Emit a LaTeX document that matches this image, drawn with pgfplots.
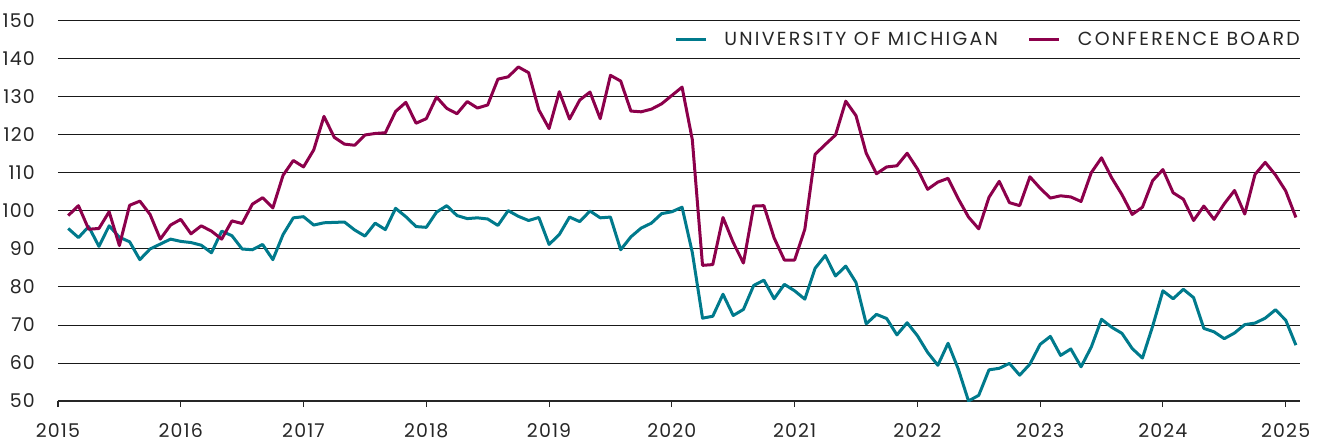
\documentclass[border=0pt]{standalone}
\usepackage{pgfplots}
\pgfplotsset{compat=1.18}
\usepackage{pgfplotstable}
\usepackage{fontspec}
\setmainfont{Poppins}
\newfontfamily\tickfont{Poppins}[LetterSpace=6]
\newfontfamily\lgfont{Poppins}[LetterSpace=12]
\definecolor{umteal}{RGB}{0,122,140}
\definecolor{cbmaroon}{RGB}{140,0,75}

% t = months since Jan 2015
\pgfplotstableread{
t um cb
1 95.4 98.8
2 93.0 101.4
3 95.9 95.2
4 90.7 95.4
5 96.1 99.8
6 93.1 90.9
7 91.9 101.5
8 87.2 102.6
9 90.0 99.1
10 91.3 92.6
11 92.6 96.3
12 92.0 97.8
13 91.7 94.0
14 91.0 96.1
15 89.0 94.7
16 94.7 92.6
17 93.5 97.4
18 90.0 96.7
19 89.8 101.8
20 91.2 103.5
21 87.2 100.8
22 93.8 109.4
23 98.2 113.3
24 98.5 111.6
25 96.3 116.1
26 96.9 124.9
27 97.0 119.4
28 97.1 117.6
29 95.0 117.3
30 93.4 120.0
31 96.8 120.4
32 95.1 120.6
33 100.7 126.2
34 98.5 128.6
35 95.9 123.1
36 95.7 124.3
37 99.7 130.0
38 101.4 127.0
39 98.8 125.6
40 98.0 128.8
41 98.2 127.1
42 97.9 127.9
43 96.2 134.7
44 100.1 135.3
45 98.6 137.9
46 97.5 136.4
47 98.3 126.6
48 91.2 121.7
49 93.8 131.4
50 98.4 124.2
51 97.2 129.2
52 100.0 131.3
53 98.2 124.3
54 98.4 135.7
55 89.8 134.2
56 93.2 126.3
57 95.5 126.1
58 96.8 126.8
59 99.3 128.2
60 99.8 130.4
61 101.0 132.6
62 89.1 118.8
63 71.8 85.7
64 72.3 85.9
65 78.1 98.3
66 72.5 91.7
67 74.1 86.3
68 80.4 101.3
69 81.8 101.4
70 76.9 92.9
71 80.7 87.1
72 79.0 87.1
73 76.8 95.2
74 84.9 114.9
75 88.3 117.5
76 82.9 120.0
77 85.5 128.9
78 81.2 125.1
79 70.3 115.2
80 72.8 109.8
81 71.7 111.6
82 67.4 111.9
83 70.6 115.2
84 67.2 111.1
85 62.8 105.7
86 59.4 107.6
87 65.2 108.6
88 58.4 103.2
89 50.0 98.4
90 51.5 95.3
91 58.2 103.6
92 58.6 107.8
93 59.9 102.2
94 56.8 101.4
95 59.7 109.0
96 64.9 106.0
97 67.0 103.4
98 62.0 104.0
99 63.7 103.7
100 59.0 102.5
101 64.2 110.1
102 71.5 114.0
103 69.4 108.7
104 67.8 104.3
105 63.8 99.1
106 61.3 101.0
107 69.7 108.0
108 79.0 110.9
109 76.9 104.8
110 79.4 103.1
111 77.2 97.5
112 69.1 101.3
113 68.2 97.8
114 66.4 101.9
115 67.9 105.4
116 70.1 99.2
117 70.5 109.6
118 71.8 112.8
119 74.0 109.5
120 71.3 105.3
121 64.7 98.3
}\datatable

\begin{document}
\begin{tikzpicture}
\useasboundingbox (-58bp,-42bp) rectangle (1269bp,401bp);
\begin{axis}[
  at={(0,0)}, anchor=south west,
  scale only axis, width=1242bp, height=380bp,
  xmin=0, xmax=121.4, ymin=50, ymax=150,
  xtick={0,12,...,120},
  xticklabels={2015,2016,2017,2018,2019,2020,2021,2022,2023,2024,2025},
  ytick={50,60,...,150},
  ymajorgrids,
  grid style={black!90, line width=1bp},
  axis x line*=bottom, axis y line*=left,
  x axis line style={-, black!85, line width=1.4bp},
  y axis line style={draw=none},
  ytick style={draw=none},
  xtick style={black!85, line width=1.1bp},
  tick align=outside, major tick length=6bp,
  /pgf/number format/assume math mode=true,
  tick label style={font=\tickfont\fontsize{19}{22}\selectfont, text=black!85},
  yticklabel style={anchor=east, inner sep=0pt, xshift=-17bp},
  xticklabel style={anchor=north, inner sep=0pt, yshift=-16bp},
  legend columns=2,
  legend style={at={(rel axis cs:1,0.95)}, anchor=east, draw=none, fill=white,
    font=\lgfont\fontsize{19}{22}\selectfont, text=black!85,
    inner sep=0pt, nodes={inner sep=0pt},
    /tikz/every odd column/.append style={column sep=17bp},
    /tikz/every even column/.append style={column sep=30bp}},
  legend cell align=left,
  legend image code/.code={\draw[#1] (0bp,0bp) -- (30bp,0bp);},
]
\addplot[umteal, line width=3bp, line join=round] table[x=t, y=um] {\datatable};
\addlegendentry{UNIVERSITY OF MICHIGAN}
\addplot[cbmaroon, line width=3bp, line join=round] table[x=t, y=cb] {\datatable};
\addlegendentry{CONFERENCE BOARD}
\end{axis}
\end{tikzpicture}
\end{document}
